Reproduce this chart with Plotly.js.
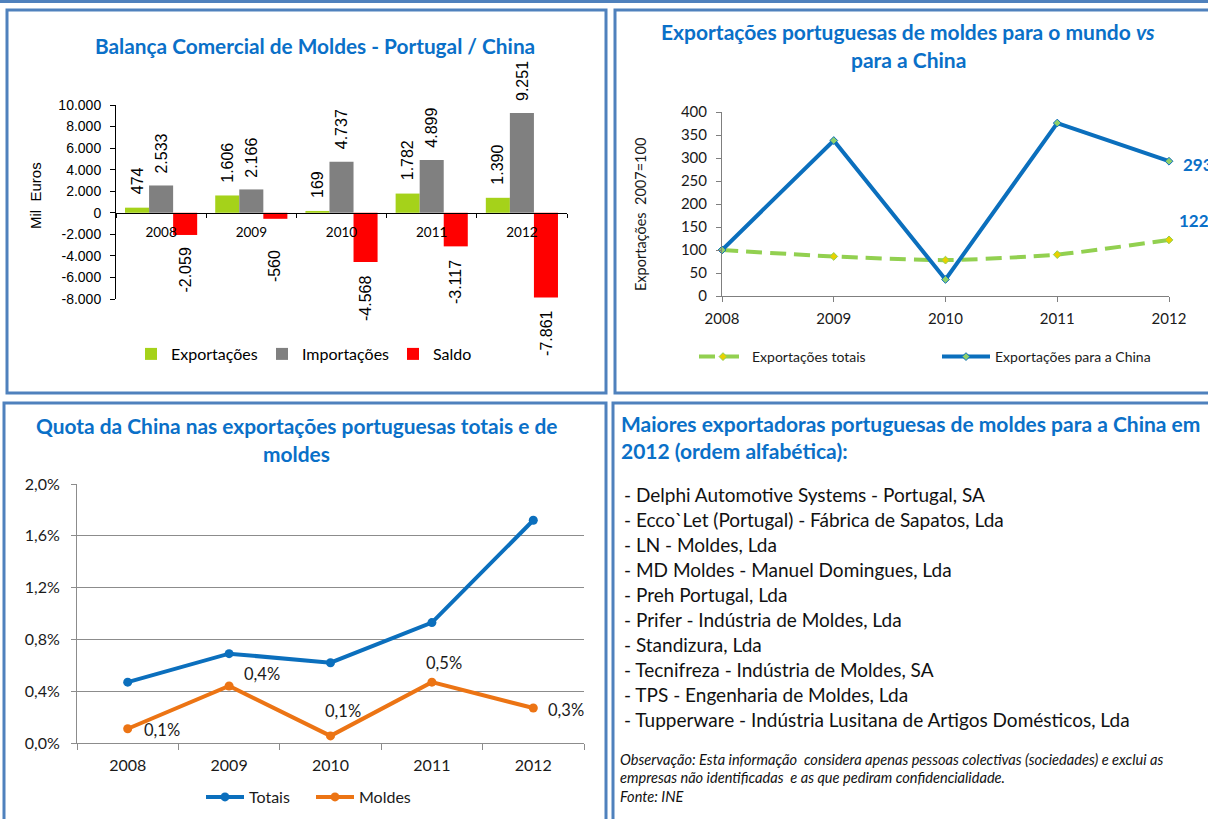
<!DOCTYPE html>
<html><head><meta charset="utf-8">
<script src="https://cdn.plot.ly/plotly-3.0.1.min.js"></script>
<style>html,body{margin:0;padding:0;background:#fff}#chart{width:1208px;height:819px}</style>
</head><body><div id="chart"></div>
<script>
// ---------- data ----------
const years = ['2008', '2009', '2010', '2011', '2012'];
const exportacoes = [474, 1606, 169, 1782, 1390];
const importacoes = [2533, 2166, 4737, 4899, 9251];
const saldo = [-2059, -560, -4568, -3117, -7861];
const balancaTicks = [10000, 8000, 6000, 4000, 2000, 0, -2000, -4000, -6000, -8000];

const indexYears = [2008, 2009, 2010, 2011, 2012];
const expTotais = [100, 86, 78, 90, 122];
const expChina = [100, 338, 36, 376, 293];
const indexTicks = [0, 50, 100, 150, 200, 250, 300, 350, 400];

const quotaTotais = [0.47, 0.69, 0.62, 0.93, 1.72];
const quotaMoldes = [0.11, 0.44, 0.055, 0.47, 0.27];
const quotaTicks = [0, 0.4, 0.8, 1.2, 1.6, 2.0];

const listTitle = ['Maiores exportadoras portuguesas de moldes para a China em', '2012 (ordem alfabética):'];
const companies = [
  '- Delphi Automotive Systems - Portugal, SA',
  '- Ecco`Let (Portugal) - Fábrica de Sapatos, Lda',
  '- LN - Moldes, Lda',
  '- MD Moldes - Manuel Domingues, Lda',
  '- Preh Portugal, Lda',
  '- Prifer - Indústria de Moldes, Lda',
  '- Standizura, Lda',
  '- Tecnifreza - Indústria de Moldes, SA',
  '- TPS - Engenharia de Moldes, Lda',
  '- Tupperware - Indústria Lusitana de Artigos Domésticos, Lda'
];
const notes = [
  'Observação: Esta informação  considera apenas pessoas colectivas (sociedades) e exclui as',
  'empresas não identificadas  e as que pediram confidencialidade.',
  'Fonte: INE'
];

// ---------- helpers ----------
const W = 1208, H = 819;
const px = x => x / W;
const py = y => 1 - y / H;
const fmtK = v => (v < 0 ? '-' : '') + Math.abs(v).toString().replace(/\B(?=(\d{3})+(?!\d))/g, '.');
const fmtPct = v => v.toFixed(1).replace('.', ',') + '%';

const LATO = 'Lato, "Open Sans", sans-serif';
const ARIAL = '"Liberation Sans", Arial, sans-serif';
const TBLUE = '#0a70c8';
const BORDER = '#4f81bd';
const GREEN = '#a5d21a', GREY = '#808080', RED = '#ff0000';
const LBLUE = '#0b6fbd', LGREEN = '#92d050', ORANGE = '#ec7414';
const GRID = '#8c8c8c';

// ---------- traces ----------
const barCommon = {type: 'bar', x: years, xaxis: 'x', yaxis: 'y', legend: 'legend', hoverinfo: 'skip'};
const barSeries = [
  {name: 'Exportações', values: exportacoes, color: GREEN},
  {name: 'Importações', values: importacoes, color: GREY},
  {name: 'Saldo', values: saldo, color: RED}
];
const traces = barSeries.map(s => Object.assign({}, barCommon, {y: s.values, name: s.name, marker: {color: s.color}}));
traces.push(
  {
    type: 'scatter', mode: 'lines+markers', x: indexYears, y: expTotais, name: 'Exportações totais',
    line: {color: LGREEN, width: 4, dash: '16px,8px', shape: 'spline', smoothing: 0.6},
    marker: {symbol: 'diamond', size: 6, color: '#e8d100', line: {color: LGREEN, width: 1}},
    xaxis: 'x2', yaxis: 'y2', legend: 'legend2', cliponaxis: false, hoverinfo: 'skip'
  },
  {
    type: 'scatter', mode: 'lines+markers', x: indexYears, y: expChina, name: 'Exportações para a China',
    line: {color: LBLUE, width: 4},
    marker: {symbol: 'diamond', size: 6, color: '#8fd06a', line: {color: LBLUE, width: 1}},
    xaxis: 'x2', yaxis: 'y2', legend: 'legend2', cliponaxis: false, hoverinfo: 'skip'
  },
  {
    type: 'scatter', mode: 'lines+markers', x: years, y: quotaTotais, name: 'Totais',
    line: {color: LBLUE, width: 4}, marker: {symbol: 'circle', size: 9, color: LBLUE},
    xaxis: 'x3', yaxis: 'y3', legend: 'legend3', cliponaxis: false, hoverinfo: 'skip'
  },
  {
    type: 'scatter', mode: 'lines+markers', x: years, y: quotaMoldes, name: 'Moldes',
    line: {color: ORANGE, width: 4}, marker: {symbol: 'circle', size: 9, color: ORANGE},
    xaxis: 'x3', yaxis: 'y3', legend: 'legend3', cliponaxis: false, hoverinfo: 'skip'
  }
);

// ---------- annotations ----------
const ann = [];
const addText = (text, x, y, opts) => ann.push(Object.assign({
  text: text, xref: 'paper', yref: 'paper', x: px(x), y: py(y), showarrow: false,
  xanchor: 'center', yanchor: 'middle'
}, opts || {}));
const titleFont = size => ({family: LATO, size: size, color: TBLUE});

addText('<b>Balança Comercial de Moldes - Portugal / China</b>', 315, 45, {font: titleFont(20.8)});
addText('<b>Exportações portuguesas de moldes para o mundo <i>vs</i></b>', 908, 32, {font: titleFont(21)});
addText('<b>para a China</b>', 908, 60, {font: titleFont(21)});
addText('<b>Quota da China nas exportações portuguesas totais e de</b>', 296, 425, {font: titleFont(20.9)});
addText('<b>moldes</b>', 296, 453, {font: titleFont(20.9)});
listTitle.forEach((t, i) => addText('<b>' + t + '</b>', 619, 423 + i * 27, {xanchor: 'left', font: titleFont(21)}));
companies.forEach((t, i) => addText(t, 622, 494 + i * 25.1, {xanchor: 'left', font: {family: LATO, size: 19, color: '#111'}}));
notes.forEach((t, i) => addText('<i>' + t + '</i>', 618, 759 + i * 18.5, {xanchor: 'left', font: {family: LATO, size: 14.6, color: '#111'}}));

addText('Mil\u00a0 Euros', 35, 196, {textangle: -90, font: {family: ARIAL, size: 15, color: '#000'}});
addText('Exportações\u00a0 2007=100', 641, 215, {textangle: -90, font: {family: LATO, size: 14.5, color: '#1a1a1a'}});

// rotated value labels of the bar chart (bar offset within group and gap are styling only)
const barOffsetPx = [-24, 0, 24];
const labelGap = [[11, 11, 11, 11, 11], [10, 10, 10, 10, 10], [11, 29, 12, 12, 11]];
barSeries.forEach((s, j) => s.values.forEach((v, i) => ann.push({
  text: fmtK(v), xref: 'x', yref: 'y', x: i, y: v, showarrow: false, textangle: -90,
  xanchor: 'center', yanchor: v >= 0 ? 'bottom' : 'top', xshift: barOffsetPx[j],
  yshift: (v >= 0 ? 1 : -1) * labelGap[j][i],
  font: {family: ARIAL, size: 16, color: '#000'}
})));

// end labels of index chart
ann.push({text: '<b>' + expChina[4] + '</b>', xref: 'x2', yref: 'y2', x: indexYears[4], y: expChina[4],
  showarrow: false, xanchor: 'left', yanchor: 'middle', xshift: 12, yshift: -3, font: {family: LATO, size: 17, color: TBLUE}});
ann.push({text: '<b>' + expTotais[4] + '</b>', xref: 'x2', yref: 'y2', x: indexYears[4], y: expTotais[4],
  showarrow: false, xanchor: 'left', yanchor: 'middle', xshift: 8, yshift: 19, font: {family: LATO, size: 17, color: TBLUE}});

// data labels of the "Moldes" series (x given as category index; offsets are styling only)
const moldesLabelShift = [[34, -1], [33, 12], [12, 25], [12, 19], [33, -2]];
quotaMoldes.forEach((v, i) => ann.push({text: fmtPct(v), xref: 'x3', yref: 'y3', x: i, y: v,
  showarrow: false, xanchor: 'center', yanchor: 'middle', xshift: moldesLabelShift[i][0], yshift: moldesLabelShift[i][1],
  font: {family: LATO, size: 16.5, color: '#1a1a1a'}}));

// ---------- shapes (panel frames) ----------
const frame = (x0, y0, x1, y1) => ({type: 'rect', xref: 'paper', yref: 'paper', x0: px(x0), x1: px(x1), y0: py(y1), y1: py(y0),
  line: {color: BORDER, width: 3}, fillcolor: 'rgba(0,0,0,0)', layer: 'below'});
const shapes = [
  {type: 'line', xref: 'paper', yref: 'paper', x0: 0, x1: 1, y0: py(1.5), y1: py(1.5), line: {color: BORDER, width: 3}},
  frame(7, 10, 606, 393),
  frame(615, 10, 1220, 393),
  frame(4, 403, 606, 830),
  frame(613, 403, 1220, 830)
];

// ---------- layout ----------
const layout = {
  width: W, height: H, margin: {l: 0, r: 0, t: 0, b: 0},
  paper_bgcolor: '#fff', plot_bgcolor: 'rgba(0,0,0,0)',
  separators: ',.', hovermode: false, bargap: 0.2, bargroupgap: 0, barmode: 'group',
  font: {family: LATO, color: '#1a1a1a'},
  // chart 1
  xaxis: {type: 'category', domain: [px(116), px(567)], anchor: 'free', position: py(213), range: [-0.5, 4.5],
    showline: true, linecolor: '#000', linewidth: 1, ticks: 'outside', tickson: 'boundaries', ticklen: 4, tickcolor: '#000',
    ticklabelstandoff: 7, tickfont: {family: LATO, size: 13.5, color: '#000'}, showgrid: false, zeroline: false, fixedrange: true},
  yaxis: {domain: [py(299), py(105)], anchor: 'x', range: [-8000, 10000], tickvals: balancaTicks, ticktext: balancaTicks.map(fmtK),
    showline: true, linecolor: '#000', ticks: 'outside', ticklen: 5, tickcolor: '#000', ticklabelstandoff: 6,
    tickfont: {family: ARIAL, size: 14, color: '#000'}, showgrid: false, zeroline: false, fixedrange: true},
  // chart 2
  xaxis2: {domain: [px(722), px(1169)], anchor: 'y2', range: [2008, 2012], tickvals: indexYears, ticktext: years,
    showline: true, linecolor: '#7f7f7f', ticks: 'outside', ticklen: 5, tickcolor: '#7f7f7f', ticklabelstandoff: 4,
    tickfont: {family: LATO, size: 15, color: '#1a1a1a'}, showgrid: false, zeroline: false, fixedrange: true},
  yaxis2: {domain: [py(296), py(112)], anchor: 'x2', range: [0, 400], tickvals: indexTicks, ticktext: indexTicks.map(String),
    showline: true, linecolor: '#7f7f7f', ticks: 'outside', ticklen: 5, tickcolor: '#7f7f7f', ticklabelstandoff: 6,
    tickfont: {family: LATO, size: 15, color: '#1a1a1a'}, showgrid: false, zeroline: false, fixedrange: true},
  // chart 3
  xaxis3: {type: 'category', domain: [px(77), px(584)], anchor: 'y3', range: [-0.5, 4.5], categoryorder: 'array', categoryarray: years,
    showline: true, linecolor: GRID, ticks: 'outside', tickson: 'boundaries', ticklen: 6, tickcolor: GRID, ticklabelstandoff: 8,
    tickfont: {family: LATO, size: 16, color: '#1a1a1a'}, showgrid: false, zeroline: false, fixedrange: true},
  yaxis3: {domain: [py(743), py(484)], anchor: 'x3', range: [0, 2.0], tickvals: quotaTicks, ticktext: quotaTicks.map(fmtPct),
    showline: true, linecolor: GRID, ticks: 'outside', ticklen: 5, tickcolor: GRID, ticklabelstandoff: 8,
    showgrid: true, gridcolor: GRID, gridwidth: 1,
    tickfont: {family: LATO, size: 16, color: '#1a1a1a'}, zeroline: false, fixedrange: true},
  legend: {orientation: 'h', x: px(131), y: py(354), xanchor: 'left', yanchor: 'middle', traceorder: 'normal',
    font: {family: LATO, size: 16, color: '#000'}, bgcolor: 'rgba(0,0,0,0)', itemwidth: 30,
    entrywidth: 86, entrywidthmode: 'pixels'},
  legend2: {orientation: 'h', x: px(694), y: py(357), xanchor: 'left', yanchor: 'middle', traceorder: 'normal',
    font: {family: LATO, size: 14, color: '#1a1a1a'}, bgcolor: 'rgba(0,0,0,0)', itemwidth: 48,
    entrywidth: 180, entrywidthmode: 'pixels'},
  legend3: {orientation: 'h', x: px(201), y: py(797), xanchor: 'left', yanchor: 'middle', traceorder: 'normal',
    font: {family: LATO, size: 16, color: '#1a1a1a'}, bgcolor: 'rgba(0,0,0,0)', itemwidth: 38,
    entrywidth: 57, entrywidthmode: 'pixels'},
  annotations: ann,
  shapes: shapes
};

Plotly.newPlot('chart', traces, layout, {staticPlot: true, displayModeBar: false});
</script>
</body></html>
